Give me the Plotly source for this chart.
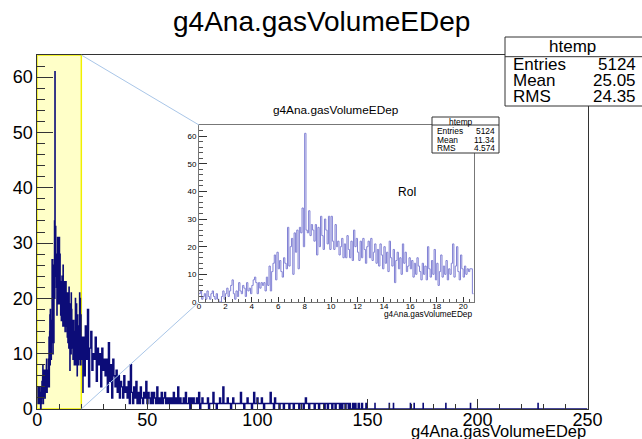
import plotly.graph_objects as go

FIG_W, FIG_H = 642, 439
FONT = "Liberation Sans, Arial, sans-serif"

# ---------------------------------------------------------------- data
# Region of interest, 0.1 binning from 0 to 20.8
roi_lo, roi_bin = 0.0, 0.1
roi_counts = [
    3, 4, 1, 2, 3, 1, 4, 2, 1, 3,          # 0 - 1
    4, 2, 1, 3, 1, 0, 0, 2, 4, 1,          # 1 - 2
    3, 5, 2, 4, 6, 8, 3, 1, 4, 2,          # 2 - 3
    7, 4, 3, 6, 5, 2, 7, 4, 5, 3,          # 3 - 4
    6, 8, 9, 7, 3, 7, 5, 7, 6, 7,          # 4 - 5
    4, 9, 6, 13, 4, 11, 14, 17, 8, 18,     # 5 - 6
    12, 15, 11, 9, 16, 14, 12, 27, 13, 20,  # 6 - 7
    23, 10, 25, 18, 26, 12, 27, 25, 34, 20,  # 7 - 8
    61, 26, 25, 33, 24, 28, 26, 22, 28, 17,  # 8 - 9
    27, 20, 31, 24, 19, 30, 26, 21, 31, 19,  # 9 - 10
    31, 22, 19, 28, 20, 22, 17, 20, 23, 16,  # 10 - 11
    21, 16, 24, 19, 16, 22, 15, 26, 20, 23,  # 11 - 12
    18, 15, 22, 16, 23, 19, 14, 20, 22, 16,  # 12 - 13
    23, 15, 18, 21, 14, 19, 13, 21, 17, 12,  # 13 - 14
    20, 14, 18, 11, 22, 16, 13, 19, 7, 15,   # 14 - 15
    18, 12, 16, 10, 21, 14, 18, 11, 13, 16,  # 15 - 16
    12, 15, 9, 14, 10, 16, 13, 11, 8, 14,    # 16 - 17
    10, 13, 8, 20, 12, 9, 15, 10, 19, 8,     # 17 - 18
    14, 6, 11, 17, 9, 13, 10, 15, 8, 12,     # 18 - 19
    10, 14, 21, 9, 13, 20, 11, 8, 17, 12,    # 19 - 20
    9, 13, 10, 12, 11, 12, 12, 3,            # 20 - 20.8
]

# Tail, 0.5 binning from 20.8 to 150.8
tail_lo, tail_bin = 20.8, 0.5
tail_counts = [
    13, 6, 15, 9, 18, 4, 11, 14, 7, 10,   # 20.8 - 25.8
    9, 13, 5, 11, 8, 10, 4, 11, 7, 9,     # 25.8 - 30.8
    6, 9, 3, 12, 5, 8, 2, 9, 6, 4,        # 30.8 - 35.8
    7, 3, 6, 2, 5, 4, 2, 6, 3, 4,         # 35.8 - 40.8
    2, 5, 1, 8, 3, 1, 4, 2, 5, 1,         # 40.8 - 45.8
    3, 1, 4, 2, 1, 3, 2, 5, 1, 3,         # 45.8 - 50.8
    2, 1, 3, 1, 3, 2, 1, 4, 1, 2,         # 50.8 - 55.8
    1, 3, 1, 2, 3, 1, 2, 1, 2, 1,         # 55.8 - 60.8
    2, 1, 3, 1, 2, 1, 4, 1, 2, 1,         # 60.8 - 65.8
    1, 2, 1, 3, 1, 1, 2, 0, 2, 1,         # 65.8 - 70.8
    2, 1, 1, 2, 1, 3, 0, 1, 2, 1,         # 70.8 - 75.8
    1, 1, 1, 2, 0, 1, 1, 1, 3, 1,         # 75.8 - 80.8
    1, 0, 1, 1, 2, 1, 1, 4, 1, 1,         # 80.8 - 85.8
    1, 2, 1, 1, 0, 1, 2, 1, 1, 1,         # 85.8 - 90.8
    1, 1, 1, 3, 1, 1, 0, 1, 1, 2,         # 90.8 - 95.8
    1, 1, 1, 0, 1, 3, 1, 1, 2, 1,         # 95.8 - 100.8
    1, 1, 2, 1, 0, 1, 1, 1, 1, 1,         # 100.8 - 105.8
    3, 1, 1, 0, 2, 1, 1, 1, 0, 1,         # 105.8 - 110.8
    1, 1, 0, 1, 1, 1, 1, 0, 1, 1,         # 110.8 - 115.8
    1, 0, 1, 1, 1, 1, 0, 1, 1, 1,         # 115.8 - 120.8
    0, 1, 2, 1, 1, 0, 1, 1, 1, 1,         # 120.8 - 125.8
    0, 1, 1, 1, 0, 1, 1, 1, 1, 0,         # 125.8 - 130.8
    1, 1, 0, 1, 1, 1, 0, 1, 1, 0,         # 130.8 - 135.8
    1, 1, 1, 0, 1, 0, 1, 1, 0, 1,         # 135.8 - 140.8
    1, 0, 1, 0, 0, 1, 0, 1, 0, 0,         # 140.8 - 145.8
    1, 0, 0, 1, 0, 0, 0, 1, 0, 0,         # 145.8 - 150.8
]

# Isolated single entries above 150.8 (0.1 wide bins, one count each)
sparse_entries = [153.4, 159.9, 161.8, 169.5, 171.2, 175.3, 185.6, 196.8, 227.5]
sparse_bin = 0.1

x_max = 250.0
y_max = 64.0
roi_x_max = 20.8
band_x = (0.0, 20.0)

hist_name = "htemp"
var_name = "g4Ana.gasVolumeEDep"
stats_main = [("Entries", "5124"), ("Mean", "25.05"), ("RMS", "24.35")]
stats_roi = [("Entries", "5124"), ("Mean", "11.34"), ("RMS", "4.574")]
roi_label = "RoI"


# ---------------------------------------------------------------- helpers
def step_xy(segments):
    """Turn (lo, hi, count) bins into an hv step outline."""
    xs = [s[0] for s in segments] + [segments[-1][1]]
    ys = [s[2] for s in segments] + [segments[-1][2]]
    return xs, ys


roi_segs = [(roi_lo + i * roi_bin, roi_lo + (i + 1) * roi_bin, c)
            for i, c in enumerate(roi_counts)]
tail_segs = [(tail_lo + i * tail_bin, tail_lo + (i + 1) * tail_bin, c)
             for i, c in enumerate(tail_counts)]
sparse_segs = []
pos = tail_segs[-1][1]
for e in sparse_entries:
    sparse_segs.append((pos, e, 0))
    sparse_segs.append((e, e + sparse_bin, 1))
    pos = e + sparse_bin
sparse_segs.append((pos, x_max, 0))

main_x, main_y = step_xy(roi_segs + tail_segs + sparse_segs)
roi_x, roi_y = step_xy(roi_segs)

# ---------------------------------------------------------------- layout geometry (pixels)
def px(x):
    return x / FIG_W


def py(y):
    return 1 - y / FIG_H


main_xdom = [px(37.3), px(587.5)]
main_ydom = [py(409), py(55)]
ins_xdom = [px(199), px(473.7)]
ins_ydom = [py(302), py(125)]

fig = go.Figure()

fig.add_trace(go.Scatter(
    x=main_x, y=main_y, mode="lines", line_shape="hv",
    line=dict(color="#0c0c78", width=1.4), hoverinfo="skip",
    xaxis="x", yaxis="y", showlegend=False))

fig.add_trace(go.Scatter(
    x=roi_x, y=roi_y, mode="lines", line_shape="hv",
    line=dict(color="#8080d4", width=1), hoverinfo="skip",
    xaxis="x2", yaxis="y2", showlegend=False))

axis_common = dict(showgrid=False, zeroline=False, showline=True, mirror=True,
                   linecolor="#333333", linewidth=1, ticks="inside",
                   tickcolor="#333333", automargin=False,
                   tickfont=dict(family=FONT, color="black"))

fig.update_layout(
    width=FIG_W, height=FIG_H,
    margin=dict(l=0, r=0, t=0, b=0),
    paper_bgcolor="white", plot_bgcolor="white",
    font=dict(family=FONT, color="black"),
    xaxis=dict(axis_common, domain=main_xdom, range=[0, x_max], anchor="y",
               tick0=0, dtick=50, ticklen=10, tickfont_size=18,
               ticklabelstandoff=-6,
               minor=dict(dtick=10, ticklen=5, ticks="inside", tickcolor="#333333")),
    yaxis=dict(axis_common, domain=main_ydom, range=[0, y_max], anchor="x",
               tick0=0, dtick=10, ticklen=16, tickfont_size=18,
               minor=dict(dtick=2, ticklen=8, ticks="inside", tickcolor="#333333")),
    xaxis2=dict(axis_common, domain=ins_xdom, range=[0, roi_x_max], anchor="y2",
                tick0=0, dtick=2, ticklen=5, tickfont_size=8,
                ticklabelstandoff=-4, linecolor="#777777",
                minor=dict(dtick=0.5, ticklen=3, ticks="inside", tickcolor="#555555")),
    yaxis2=dict(axis_common, domain=ins_ydom, range=[0, y_max], anchor="x2",
                tick0=0, dtick=10, ticklen=8, tickfont_size=8,
                linecolor="#777777",
                minor=dict(dtick=2, ticklen=4, ticks="inside", tickcolor="#555555")),
)

# Region-of-interest band on the main histogram
fig.add_shape(type="rect", xref="x", yref="y", x0=band_x[0], x1=band_x[1],
              y0=0, y1=y_max, fillcolor="#ffffc8", layer="below",
              line=dict(color="#f0f000", width=1.5))

# Guide lines from the band corners to the zoomed pad
def x_to_paper(x):
    return main_xdom[0] + (x / x_max) * (main_xdom[1] - main_xdom[0])


band_right = x_to_paper(band_x[1])
for y_main, y_ins in ((main_ydom[1], ins_ydom[1]), (main_ydom[0], ins_ydom[0])):
    fig.add_shape(type="line", xref="paper", yref="paper",
                  x0=band_right, y0=y_main, x1=ins_xdom[0], y1=y_ins,
                  line=dict(color="#a9c6e8", width=1))


# Statistics boxes
def stats_box(x0, x1, y0, y1, y_head, head_y, rows_y, lab_x, val_x, size):
    fig.add_shape(type="rect", xref="paper", yref="paper",
                  x0=px(x0), x1=px(x1), y0=py(y1), y1=py(y0),
                  fillcolor="white", line=dict(color="#333333", width=1), layer="above")
    fig.add_shape(type="line", xref="paper", yref="paper",
                  x0=px(x0), x1=px(x1), y0=py(y_head), y1=py(y_head),
                  line=dict(color="#333333", width=1), layer="above")
    return head_y, rows_y, lab_x, val_x, size


def stats_text(box, x_center, rows):
    head_y, rows_y, lab_x, val_x, size = box
    fig.add_annotation(x=px(x_center), y=py(head_y), xref="paper", yref="paper",
                       text=hist_name, showarrow=False, xanchor="center", yanchor="middle",
                       font=dict(size=size))
    for (lab, val), ry in zip(rows, rows_y):
        fig.add_annotation(x=px(lab_x), y=py(ry), xref="paper", yref="paper",
                           text=lab, showarrow=False, xanchor="left", yanchor="middle",
                           font=dict(size=size))
        fig.add_annotation(x=px(val_x), y=py(ry), xref="paper", yref="paper",
                           text=val, showarrow=False, xanchor="right", yanchor="middle",
                           font=dict(size=size))


main_box = stats_box(505, 660, 37, 106, 56.7, 46, [64.5, 80.7, 96.7], 511, 638, 17)
stats_text(main_box, 572, stats_main)
roi_box = stats_box(432, 499, 117, 153, 125, 121.5, [130.8, 139.6, 148.2], 435, 497, 8.4)
stats_text(roi_box, 461, stats_roi)

# Titles and labels
fig.add_annotation(x=0.5, y=py(22), xref="paper", yref="paper", text=var_name,
                   showarrow=False, xanchor="center", yanchor="middle", font=dict(size=28))
fig.add_annotation(x=px(588), y=py(430.5), xref="paper", yref="paper", text=var_name,
                   showarrow=False, xanchor="right", yanchor="middle", font=dict(size=16.5))
fig.add_annotation(x=px(336), y=py(110), xref="paper", yref="paper", text=var_name,
                   showarrow=False, xanchor="center", yanchor="middle", font=dict(size=11.8))
fig.add_annotation(x=px(473.7), y=py(314), xref="paper", yref="paper", text=var_name,
                   showarrow=False, xanchor="right", yanchor="middle", font=dict(size=8.3))
fig.add_annotation(x=px(407), y=py(192), xref="paper", yref="paper", text=roi_label,
                   showarrow=False, xanchor="center", yanchor="middle", font=dict(size=12))

fig.write_html("out.html")
